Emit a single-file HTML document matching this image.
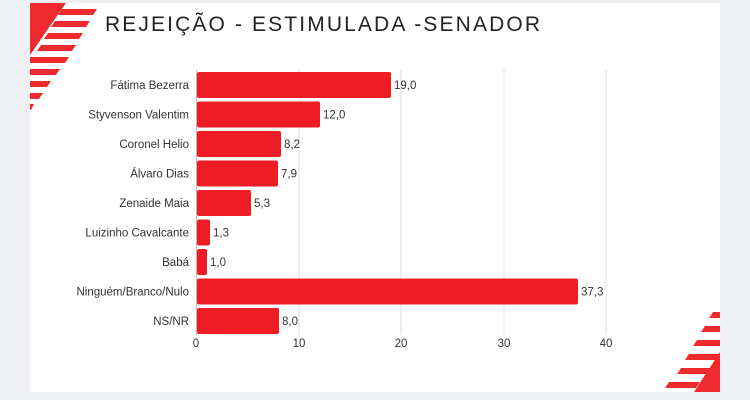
<!DOCTYPE html>
<html><head><meta charset="utf-8"><style>
html,body{margin:0;padding:0;background:#eef0f4;}
svg{display:block;font-family:"Liberation Sans",sans-serif;}
</style></head><body>
<svg width="750" height="400" viewBox="0 0 750 400">
<rect x="0" y="0" width="750" height="400" fill="#eef0f4"/>
<rect x="30" y="3" width="690" height="389" fill="#ffffff"/>
<g fill="#ee2a2f">
<polygon points="30,3 66,3 30,55"/>
<polygon points="62,9 97,9 93,15 58,15"/>
<polygon points="55,21 90,21 86,27 51,27"/>
<polygon points="48,33 83,33 79,39 44,39"/>
<polygon points="41,45 76,45 72,51 37,51"/>
<polygon points="30,57 69,57 65,63 30,63"/>
<polygon points="30,69 60,69 56,75 30,75"/>
<polygon points="30,81 51,81 47,87 30,87"/>
<polygon points="30,93 43,93 39,99 30,99"/>
<polygon points="30,104 34,104 31,110 30,110"/>
<polygon points="720,392 694,392 720,352"/>
<polygon points="713,312 720,312 720,318 709,318"/>
<polygon points="705,326 720,326 720,332 701,332"/>
<polygon points="697,340 720,340 720,346 693,346"/>
<polygon points="689,354 720,354 720,360 685,360"/>
<polygon points="681,368 720,368 720,374 677,374"/>
<polygon points="669,382 700,382 696,388 665,388"/>
</g>
<text x="105" y="31" font-size="21" fill="#222" textLength="435" lengthAdjust="spacing">REJEIÇÃO - ESTIMULADA -SENADOR</text>
<g stroke="#dcdcdc" stroke-width="1">
<line x1="299" y1="70" x2="299" y2="335"/>
<line x1="401" y1="70" x2="401" y2="335"/>
<line x1="504" y1="70" x2="504" y2="335"/>
<line x1="606" y1="70" x2="606" y2="335"/>
</g>
<line x1="196.5" y1="70" x2="196.5" y2="335" stroke="#bbb"/>
<g fill="#ee1c25">
<rect x="197" y="72" width="194" height="26" rx="2"/>
<rect x="197" y="101.5" width="123" height="26" rx="2"/>
<rect x="197" y="131" width="84" height="26" rx="2"/>
<rect x="197" y="160.5" width="81" height="26" rx="2"/>
<rect x="197" y="190" width="54" height="26" rx="2"/>
<rect x="197" y="219.5" width="13" height="26" rx="2"/>
<rect x="197" y="249" width="10" height="26" rx="2"/>
<rect x="197" y="278.5" width="381" height="26" rx="2"/>
<rect x="197" y="308" width="82" height="26" rx="2"/>
</g>
<g font-size="11.5" fill="#333" text-anchor="end">
<text x="189" y="89">Fátima Bezerra</text>
<text x="189" y="118.5">Styvenson Valentim</text>
<text x="189" y="148">Coronel Helio</text>
<text x="189" y="177.5">Álvaro Dias</text>
<text x="189" y="207">Zenaide Maia</text>
<text x="189" y="236.5">Luizinho Cavalcante</text>
<text x="189" y="266">Babá</text>
<text x="189" y="295.5">Ninguém/Branco/Nulo</text>
<text x="189" y="325">NS/NR</text>
</g>
<g font-size="11.5" fill="#333">
<text x="394" y="89">19,0</text>
<text x="323" y="118.5">12,0</text>
<text x="284" y="148">8,2</text>
<text x="281" y="177.5">7,9</text>
<text x="254" y="207">5,3</text>
<text x="213" y="236.5">1,3</text>
<text x="210" y="266">1,0</text>
<text x="581" y="295.5">37,3</text>
<text x="282" y="325">8,0</text>
</g>
<g font-size="11.5" fill="#333" text-anchor="middle">
<text x="196" y="347">0</text>
<text x="299" y="347">10</text>
<text x="401" y="347">20</text>
<text x="504" y="347">30</text>
<text x="606" y="347">40</text>
</g>
</svg>
</body></html>
